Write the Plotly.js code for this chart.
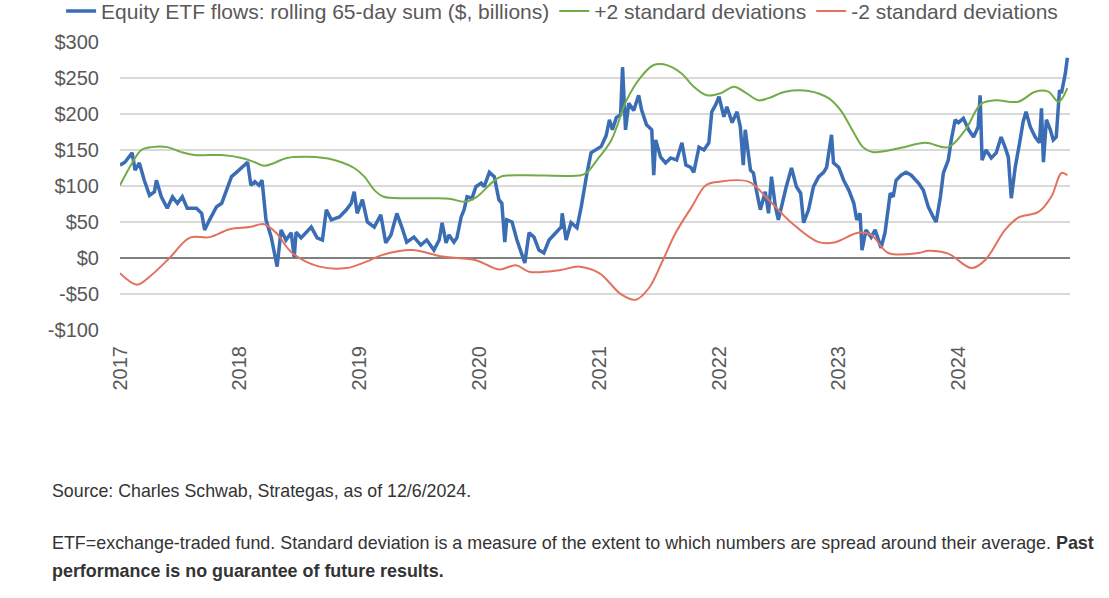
<!DOCTYPE html>
<html>
<head>
<meta charset="utf-8">
<script src="https://cdn.plot.ly/plotly-3.0.1.min.js"></script>
<style>
  html, body { margin: 0; padding: 0; background: #ffffff; }
  #chart { width: 1109px; height: 598px; }
</style>
</head>
<body>
<div id="chart"></div>
<script>
// Equity ETF flows: rolling 65-day sum ($, billions)
const flowDates = [
  "2017-01-01","2017-01-16","2017-02-07","2017-02-16","2017-03-01","2017-03-16","2017-04-01","2017-04-16","2017-04-22","2017-05-07",
  "2017-05-25","2017-06-10","2017-06-25","2017-07-10","2017-07-25","2017-08-22","2017-09-07","2017-09-16","2017-10-01","2017-10-22",
  "2017-11-07","2017-11-22","2017-12-07","2017-12-22","2018-01-07","2018-01-25","2018-02-04","2018-02-16","2018-03-01","2018-03-10",
  "2018-03-22","2018-04-07","2018-04-25","2018-05-07","2018-05-22","2018-06-07","2018-06-16","2018-06-22","2018-07-07","2018-07-22",
  "2018-08-07","2018-08-25","2018-09-10","2018-09-22","2018-10-07","2018-11-01","2018-11-22","2018-12-07","2018-12-16","2018-12-25",
  "2019-01-10","2019-01-25","2019-02-15","2019-03-07","2019-03-22","2019-04-07","2019-04-25","2019-05-10","2019-05-25","2019-06-16",
  "2019-07-07","2019-07-25","2019-08-16","2019-09-01","2019-09-10","2019-09-22","2019-10-01","2019-10-16","2019-10-25","2019-11-07",
  "2019-11-16","2019-11-25","2019-12-10","2019-12-22","2020-01-07","2020-01-16","2020-02-01","2020-02-16","2020-03-01","2020-03-10",
  "2020-03-19","2020-03-25","2020-04-10","2020-04-25","2020-05-10","2020-05-19","2020-06-01","2020-06-16","2020-07-01","2020-07-16",
  "2020-08-01","2020-08-16","2020-09-07","2020-09-10","2020-09-22","2020-10-07","2020-10-25","2020-11-07","2020-11-16","2020-11-25",
  "2020-12-07","2020-12-22","2021-01-07","2021-01-22","2021-02-01","2021-02-10","2021-02-22","2021-03-07","2021-03-13","2021-03-22",
  "2021-04-01","2021-04-16","2021-05-01","2021-05-10","2021-05-25","2021-06-10","2021-06-16","2021-06-22","2021-07-07","2021-07-22",
  "2021-08-07","2021-08-25","2021-09-10","2021-09-22","2021-10-07","2021-10-16","2021-11-01","2021-11-16","2021-12-01","2021-12-10",
  "2021-12-22","2022-01-01","2022-01-16","2022-01-25","2022-02-10","2022-02-25","2022-03-07","2022-03-16","2022-03-22","2022-04-07",
  "2022-04-16","2022-04-25","2022-05-07","2022-05-22","2022-06-01","2022-06-10","2022-06-22","2022-07-01","2022-07-16","2022-07-25",
  "2022-08-10","2022-08-25","2022-09-07","2022-09-16","2022-10-01","2022-10-16","2022-11-01","2022-11-16","2022-11-25","2022-12-10",
  "2022-12-16","2023-01-01","2023-01-16","2023-02-01","2023-02-16","2023-02-25","2023-03-07","2023-03-13","2023-03-25","2023-04-10",
  "2023-04-22","2023-05-01","2023-05-10","2023-05-22","2023-06-01","2023-06-07","2023-06-16","2023-06-25","2023-07-10","2023-07-25",
  "2023-08-10","2023-08-25","2023-09-01","2023-09-16","2023-10-01","2023-10-16","2023-10-25","2023-11-07","2023-11-16","2023-12-01",
  "2023-12-10","2023-12-22","2024-01-01","2024-01-16","2024-02-01","2024-02-16","2024-03-01","2024-03-07","2024-03-13","2024-03-25",
  "2024-04-10","2024-04-25","2024-05-10","2024-05-22","2024-06-01","2024-06-10","2024-06-22","2024-07-07","2024-07-16","2024-07-25",
  "2024-08-07","2024-08-22","2024-09-04","2024-09-10","2024-09-16","2024-09-25","2024-10-07","2024-10-16","2024-10-25","2024-11-04",
  "2024-11-10","2024-11-22","2024-11-28"
];
const flowValues = [
  129,133,146,122,132,108,87,92,108,85,
  69,85,76,85,69,69,62,39,53,71,
  76,94,113,119,125,133,101,106,101,108,
  53,29,-12,39,25,35,1,36,28,35,
  43,28,25,67,53,57,67,76,92,62,
  81,50,43,60,21,32,62,43,22,29,
  18,25,11,25,49,21,32,22,28,57,
  67,85,83,99,104,99,119,113,81,76,
  22,53,50,25,7,-7,35,29,11,7,
  25,32,43,62,25,49,42,71,99,119,
  146,150,155,170,192,178,195,199,265,178,
  215,205,226,206,185,178,115,164,140,132,
  139,136,160,129,126,119,154,150,160,203,
  213,224,196,210,188,203,182,129,178,122,
  118,94,67,92,62,113,71,53,85,99,
  125,99,90,49,67,99,113,119,126,171,
  132,126,108,94,76,53,62,11,39,29,
  39,25,14,35,71,90,85,108,115,119,
  115,108,104,94,71,57,50,85,118,136,
  164,192,188,194,178,168,182,226,136,150,
  139,146,168,154,140,83,126,164,189,203,
  182,168,160,208,133,192,178,164,168,233,
  229,257,278
];

// +2 standard deviations
const upperDates = [
  "2017-01-01","2017-02-07","2017-03-07","2017-04-07","2017-05-25","2017-07-07","2017-08-16","2017-11-07","2018-01-07","2018-02-16",
  "2018-03-16","2018-04-16","2018-05-25","2018-09-16","2018-11-07","2018-12-16","2019-01-16","2019-02-16","2019-03-16","2019-05-25",
  "2019-08-16","2019-10-07","2019-11-16","2019-12-25","2020-02-07","2020-03-07","2020-05-16","2020-11-07","2020-11-25","2020-12-25",
  "2021-02-07","2021-03-25","2021-05-07","2021-06-16","2021-07-16","2021-09-07","2021-10-16","2021-11-25","2022-01-07","2022-02-16",
  "2022-03-25","2022-05-01","2022-06-01","2022-07-22","2022-10-01","2022-12-01","2023-01-07","2023-02-16","2023-03-16","2023-04-16",
  "2023-07-10","2023-09-22","2023-12-01","2024-01-22","2024-03-10","2024-04-22","2024-07-01","2024-08-22","2024-10-01","2024-11-01",
  "2024-11-28"
];
const upperValues = [
  101,132,150,154,154,147,143,143,139,133,
  128,132,139,139,133,125,113,94,85,83,
  83,82,78,85,104,113,115,115,119,136,
  164,219,251,268,269,257,238,226,229,238,
  229,219,222,231,232,222,205,174,154,147,
  153,160,154,178,214,219,217,231,231,217,
  236
];

// -2 standard deviations
const lowerDates = [
  "2017-01-01","2017-02-22","2017-04-01","2017-06-01","2017-08-01","2017-10-01","2017-12-01","2018-02-01","2018-03-16","2018-04-22",
  "2018-06-10","2018-09-01","2018-11-22","2019-01-22","2019-03-10","2019-06-10","2019-09-10","2019-12-22","2020-03-01","2020-04-22",
  "2020-06-01","2020-09-01","2020-11-01","2021-01-01","2021-03-10","2021-04-22","2021-06-01","2021-07-10","2021-08-22","2021-10-10",
  "2021-11-22","2022-01-01","2022-04-01","2022-06-01","2022-08-10","2022-11-01","2022-12-22","2023-03-01","2023-04-10","2023-06-01",
  "2023-09-01","2023-10-01","2023-12-01","2024-02-10","2024-03-22","2024-05-22","2024-07-01","2024-09-01","2024-10-10","2024-11-10",
  "2024-11-28"
];
const lowerValues = [
  -21,-37,-26,0,28,29,40,43,47,35,
  7,-12,-14,-5,4,11,2,-3,-16,-10,
  -19,-17,-12,-21,-51,-58,-42,-7,35,71,
  101,106,106,81,49,22,22,35,32,7,
  7,10,6,-14,-3,39,56,64,85,118,
  115
];

const yTickVals = [300, 250, 200, 150, 100, 50, 0, -50, -100];
const yTickText = ["$300", "$250", "$200", "$150", "$100", "$50", "$0", "-$50", "-$100"];
const xTickVals = ["2017-01-01","2018-01-01","2019-01-01","2020-01-01","2021-01-01","2022-01-01","2023-01-01","2024-01-01"];
const xTickText = ["2017","2018","2019","2020","2021","2022","2023","2024"];

const seriesNames = [
  "Equity ETF flows: rolling 65-day sum ($, billions)",
  "+2 standard deviations",
  "-2 standard deviations"
];

const font = "Liberation Sans, Arial, sans-serif";
const grey = "#595959";

const traces = [
  { x: flowDates, y: flowValues, name: seriesNames[0], type: "scatter", mode: "lines",
    line: { color: "#3a6db4", width: 3.5 } },
  { x: upperDates, y: upperValues, name: seriesNames[1], type: "scatter", mode: "lines",
    line: { color: "#72ab48", width: 2, shape: "spline", smoothing: 1 } },
  { x: lowerDates, y: lowerValues, name: seriesNames[2], type: "scatter", mode: "lines",
    line: { color: "#e4705e", width: 2, shape: "spline", smoothing: 1 } }
];

const layout = {
  width: 1109, height: 598,
  margin: { l: 120, r: 39, t: 42, b: 268, autoexpand: false },
  paper_bgcolor: "#ffffff", plot_bgcolor: "#ffffff",
  font: { family: font, color: grey, size: 17 },
  showlegend: true,
  legend: {
    orientation: "h", xref: "paper", yref: "paper",
    x: -0.062, y: 1.178, xanchor: "left", yanchor: "top",
    font: { family: font, size: 21, color: grey },
    itemwidth: 30, tracegroupgap: 0,
    bgcolor: "rgba(0,0,0,0)"
  },
  xaxis: {
    type: "date",
    range: ["2017-01-01", "2024-12-06"],
    tickmode: "array", tickvals: xTickVals, ticktext: xTickText,
    tickangle: -90, ticks: "outside", ticklen: 7, tickcolor: "rgba(0,0,0,0)",
    showgrid: false, showline: false, zeroline: false,
    tickfont: { family: font, size: 20, color: grey }
  },
  yaxis: {
    range: [-100, 300],
    tickmode: "array", tickvals: yTickVals, ticktext: yTickText,
    ticks: "outside", ticklen: 16, tickcolor: "rgba(0,0,0,0)",
    showgrid: true, gridcolor: "#d9d9d9", gridwidth: 1.5,
    zeroline: true, zerolinecolor: "#808080", zerolinewidth: 2.5,
    showline: false,
    tickfont: { family: font, size: 20, color: grey }
  },
  annotations: [
    { xref: "paper", yref: "paper", x: -0.0737, y: -0.559, xanchor: "left", yanchor: "middle",
      showarrow: false, align: "left",
      text: "Source: Charles Schwab, Strategas, as of 12/6/2024.",
      font: { family: font, size: 17.8, color: "#333333" } },
    { xref: "paper", yref: "paper", x: -0.0737, y: -0.740, xanchor: "left", yanchor: "middle",
      showarrow: false, align: "left",
      text: "ETF=exchange-traded fund. Standard deviation is a measure of the extent to which numbers are spread around their average. <b>Past</b>",
      font: { family: font, size: 17.9, color: "#333333" } },
    { xref: "paper", yref: "paper", x: -0.0737, y: -0.837, xanchor: "left", yanchor: "middle",
      showarrow: false, align: "left",
      text: "<b>performance is no guarantee of future results.</b>",
      font: { family: font, size: 17.9, color: "#333333" } }
  ]
};

Plotly.newPlot("chart", traces, layout, { displayModeBar: false, staticPlot: true });
</script>
</body>
</html>
